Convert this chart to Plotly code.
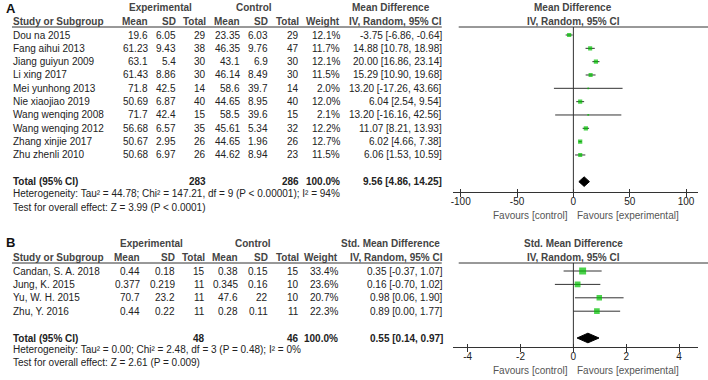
import plotly.graph_objects as go

W, H = 708, 380
def px(x): return x / W
def py(y): return 1 - y / H

FONT = "Liberation Sans, Arial, sans-serif"
TXT = "#222222"
HDR = "#444444"
GREEN = "#00c000"
LINE = "#333333"

# ---------------- Panel A data ----------------
studies_A = ["Dou na 2015", "Fang aihui 2013", "Jiang guiyun 2009", "Li xing 2017",
             "Mei yunhong 2013", "Nie xiaojiao 2019", "Wang wenqing 2008",
             "Wang wenqing 2012", "Zhang xinjie 2017", "Zhu zhenli 2010"]
exp_mean_A = ["19.6", "61.23", "63.1", "61.43", "71.8", "50.69", "71.7", "56.68", "50.67", "50.68"]
exp_sd_A = ["6.05", "9.43", "5.4", "8.86", "42.5", "6.87", "42.4", "6.57", "2.95", "6.97"]
exp_n_A = [29, 38, 30, 30, 14, 40, 15, 35, 26, 26]
ctl_mean_A = ["23.35", "46.35", "43.1", "46.14", "58.6", "44.65", "58.5", "45.61", "44.65", "44.62"]
ctl_sd_A = ["6.03", "9.76", "6.9", "8.49", "39.7", "8.95", "39.6", "5.34", "1.96", "8.94"]
ctl_n_A = [29, 47, 30, 30, 14, 40, 15, 32, 26, 23]
weight_A = [12.1, 11.7, 12.1, 11.5, 2.0, 12.0, 2.1, 12.2, 12.7, 11.5]
md_A = [-3.75, 14.88, 20.00, 15.29, 13.20, 6.04, 13.20, 11.07, 6.02, 6.06]
lo_A = [-6.86, 10.78, 16.86, 10.90, -17.26, 2.54, -16.16, 8.21, 4.66, 1.53]
hi_A = [-0.64, 18.98, 23.14, 19.68, 43.66, 9.54, 42.56, 13.93, 7.38, 10.59]
total_A = {"exp_n": 283, "ctl_n": 286, "est": 9.56, "lo": 4.86, "hi": 14.25}
het_A = "Heterogeneity: Tau² = 44.78; Chi² = 147.21, df = 9 (P < 0.00001); I² = 94%"
test_A = "Test for overall effect: Z = 3.99 (P < 0.0001)"
ticks_A = [-100, -50, 0, 50, 100]
ticklabels_A = ["-100", "-50", "0", "50", "100"]

# ---------------- Panel B data ----------------
studies_B = ["Candan, S. A. 2018", "Jung, K. 2015", "Yu, W. H. 2015", "Zhu, Y. 2016"]
exp_mean_B = ["0.44", "0.377", "70.7", "0.44"]
exp_sd_B = ["0.18", "0.219", "23.2", "0.22"]
exp_n_B = [15, 11, 11, 11]
ctl_mean_B = ["0.38", "0.345", "47.6", "0.28"]
ctl_sd_B = ["0.15", "0.16", "22", "0.11"]
ctl_n_B = [15, 10, 10, 11]
weight_B = [33.4, 23.6, 20.7, 22.3]
smd_B = [0.35, 0.16, 0.98, 0.89]
lo_B = [-0.37, -0.70, 0.06, 0.00]
hi_B = [1.07, 1.02, 1.90, 1.77]
total_B = {"exp_n": 48, "ctl_n": 46, "est": 0.55, "lo": 0.14, "hi": 0.97}
het_B = "Heterogeneity: Tau² = 0.00; Chi² = 2.48, df = 3 (P = 0.48); I² = 0%"
test_B = "Test for overall effect: Z = 2.61 (P = 0.009)"
ticks_B = [-4, -2, 0, 2, 4]
ticklabels_B = ["-4", "-2", "0", "2", "4"]

fig = go.Figure()
annotations = []
shapes = []


def ann(text, x, y, xanchor="left", yref="paper", bold=False, size=10, color=TXT):
    if bold:
        text = f"<b>{text}</b>"
    annotations.append(dict(text=text, x=px(x), y=y, xref="paper", yref=yref,
                            xanchor=xanchor, yanchor="middle", showarrow=False,
                            borderpad=0, borderwidth=0,
                            font=dict(family=FONT, size=size, color=color)))


def panel(xa, ya, xa_ov, studies, em, es, en, cm, cs, cn, wt, est, lo, hi, tot,
          het, test, cols, hdr_y, total_row, het_y, test_y, fav_y, label, label_y,
          title, exp_c, ctl_c, sq_k):
    yref = ya
    xs, ys = [], []
    for i, (l, h) in enumerate(zip(lo, hi)):
        xs += [l, h, None]
        ys += [i, i, None]
    fig.add_trace(go.Scatter(x=xs, y=ys, mode="lines", line=dict(color=LINE, width=1),
                             xaxis=xa, yaxis=ya, hoverinfo="skip", showlegend=False))
    fig.add_trace(go.Scatter(x=est, y=list(range(len(est))), mode="markers",
                             marker=dict(symbol="square", color=GREEN,
                                         size=[sq_k * (w ** 0.5) for w in wt],
                                         line=dict(width=0)),
                             xaxis=xa, yaxis=ya, hoverinfo="skip", showlegend=False))
    r = total_row
    fig.add_trace(go.Scatter(x=[tot["lo"], tot["est"], tot["hi"], tot["est"], tot["lo"]],
                             y=[r, r - 0.36, r, r + 0.36, r], mode="lines", fill="toself",
                             fillcolor="black", line=dict(color="black", width=1),
                             xaxis=xa, yaxis=ya, hoverinfo="skip", showlegend=False))
    fig.add_trace(go.Scatter(x=[None], y=[None], xaxis=xa_ov, yaxis=ya, showlegend=False,
                             hoverinfo="skip"))
    shapes.append(dict(type="line", xref=xa, yref=f"{yref} domain", x0=0, x1=0, y0=0, y1=1,
                       line=dict(color=LINE, width=1)))

    c_em, c_es, c_en, c_cm, c_cs, c_cn, c_w, c_ci = cols
    y1, y2 = hdr_y
    ann(label, 4, py(label_y), bold=True, size=13, color="#111111")
    ann(exp_c[0], exp_c[1], py(y1), xanchor="center", bold=True, color=HDR)
    ann("Control", ctl_c, py(y1), xanchor="center", bold=True, color=HDR)
    ann(title, 390, py(y1), xanchor="center", bold=True, color=HDR)
    ann(title, 573, py(y1), xanchor="center", bold=True, color=HDR)
    ann("Study or Subgroup", 11, py(y2), bold=True, color=HDR)
    for t, c in [("Mean", c_em), ("SD", c_es), ("Total", c_en), ("Mean", c_cm),
                 ("SD", c_cs), ("Total", c_cn), ("Weight", c_w), ("IV, Random, 95% CI", c_ci)]:
        ann(t, c, py(y2), xanchor="right", bold=True, color=HDR)
    ann("IV, Random, 95% CI", 573, py(y2), xanchor="center", bold=True, color=HDR)

    for i, s in enumerate(studies):
        ann(s, 11, i, yref=yref)
        ann(em[i], c_em, i, "right", yref)
        ann(es[i], c_es, i, "right", yref)
        ann(str(en[i]), c_en, i, "right", yref)
        ann(cm[i], c_cm, i, "right", yref)
        ann(cs[i], c_cs, i, "right", yref)
        ann(str(cn[i]), c_cn, i, "right", yref)
        ann(f"{wt[i]:.1f}%", c_w, i, "right", yref)
        ann(f"{est[i]:.2f} [{lo[i]:.2f}, {hi[i]:.2f}]", c_ci, i, "right", yref)

    ann("Total (95% CI)", 11, r, yref=yref, bold=True)
    ann(str(tot["exp_n"]), c_en, r, "right", yref, bold=True)
    ann(str(tot["ctl_n"]), c_cn, r, "right", yref, bold=True)
    ann("100.0%", c_w, r, "right", yref, bold=True)
    ann(f"{tot['est']:.2f} [{tot['lo']:.2f}, {tot['hi']:.2f}]", c_ci, r, "right", yref, bold=True)
    ann(het, 11, py(het_y))
    ann(test, 11, py(test_y))
    ann("Favours [control]", 568, py(fav_y), xanchor="right", color="#555555")
    ann("Favours [experimental]", 577, py(fav_y), xanchor="left", color="#555555")


panel("x", "y", "x3", studies_A, exp_mean_A, exp_sd_A, exp_n_A, ctl_mean_A, ctl_sd_A,
      ctl_n_A, weight_A, md_A, lo_A, hi_A, total_A, het_A, test_A,
      cols=(146, 174, 205, 239, 267, 298, 339, 441), hdr_y=(8, 22), total_row=11,
      het_y=193, test_y=207, fav_y=215, label="A", label_y=9, title="Mean Difference",
      exp_c=("Experimental", 159), ctl_c=253, sq_k=1.2)

panel("x2", "y2", "x4", studies_B, exp_mean_B, exp_sd_B, exp_n_B, ctl_mean_B, ctl_sd_B,
      ctl_n_B, weight_B, smd_B, lo_B, hi_B, total_B, het_B, test_B,
      cols=(138, 173, 204, 237, 267, 298, 337, 442), hdr_y=(243, 257), total_row=5,
      het_y=349, test_y=362, fav_y=370, label="B", label_y=242,
      title="Std. Mean Difference", exp_c=("Experimental", 150), ctl_c=252, sq_k=1.2)

for y in (27, 263):
    shapes.append(dict(type="line", xref="paper", yref="paper", x0=px(10), x1=px(441),
                       y0=py(y), y1=py(y), line=dict(color=LINE, width=1)))
    shapes.append(dict(type="line", xref="paper", yref="paper", x0=px(458), x1=px(708),
                       y0=py(y), y1=py(y), line=dict(color=LINE, width=1)))

dom_x = [px(452), px(698)]
rngA = [(452 - 573) / 1.13, (698 - 573) / 1.13]
rngB = [(452 - 573) / 26.5, (698 - 573) / 26.5]

base_x = dict(domain=dom_x, showgrid=False, zeroline=False, showline=True, linecolor=LINE,
              linewidth=1, ticks="outside", ticklen=4, tickcolor=LINE, tickwidth=1,
              ticklabelstandoff=-4,
              tickfont=dict(family=FONT, size=10, color=TXT), fixedrange=True)
ov_x = dict(domain=dom_x, showgrid=False, zeroline=False, showline=False, ticks="inside",
            ticklen=3, tickcolor=LINE, tickwidth=1, showticklabels=False, fixedrange=True)

fig.update_layout(
    width=W, height=H, margin=dict(l=0, r=0, t=0, b=0),
    paper_bgcolor="white", plot_bgcolor="white", showlegend=False,
    xaxis=dict(base_x, range=rngA, tickvals=ticks_A, ticktext=ticklabels_A, anchor="y"),
    xaxis3=dict(ov_x, range=rngA, tickvals=ticks_A, anchor="y", overlaying="x"),
    yaxis=dict(domain=[py(192), py(27)], range=[(192 - 35) / 13.33, (27 - 35) / 13.33],
               visible=False, fixedrange=True),
    xaxis2=dict(base_x, range=rngB, tickvals=ticks_B, ticktext=ticklabels_B, anchor="y2"),
    xaxis4=dict(ov_x, range=rngB, tickvals=ticks_B, anchor="y2", overlaying="x2"),
    yaxis2=dict(domain=[py(347), py(263)], range=[(347 - 271) / 13.4, (263 - 271) / 13.4],
                visible=False, fixedrange=True),
    annotations=annotations, shapes=shapes,
)

fig.write_html("out.html", config={"displayModeBar": False},
               post_script="document.body.style.margin='0px';")
